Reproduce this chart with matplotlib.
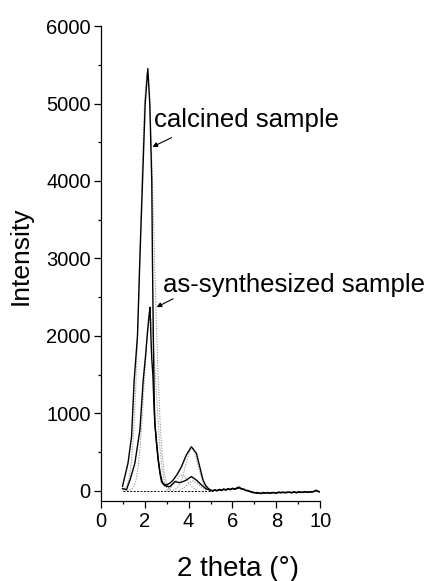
import matplotlib
matplotlib.use("Agg")
import matplotlib.pyplot as plt
from matplotlib.ticker import MultipleLocator

plt.rcParams['font.family'] = ['Liberation Sans', 'DejaVu Sans']

# ---- data ----
tail_x = [5.1, 5.2, 5.3, 5.4, 5.5, 5.6, 5.7, 5.8, 5.9, 6.0, 6.1, 6.2, 6.3, 6.4, 6.5,
          6.6, 6.7, 6.8, 6.9, 7.0, 7.1, 7.2, 7.3, 7.4, 7.5, 7.6, 7.7, 7.8, 7.9, 8.0,
          8.1, 8.2, 8.3, 8.4, 8.5, 8.6, 8.7, 8.8, 8.9, 9.0, 9.1, 9.2, 9.3, 9.4, 9.5,
          9.6, 9.7, 9.8, 9.9, 10.0]

calc_x = [1.0, 1.1, 1.25, 1.41, 1.53, 1.68, 1.79, 1.91, 2.03, 2.15, 2.24, 2.33,
          2.36, 2.40, 2.44, 2.47, 2.55, 2.62, 2.70, 2.77, 2.85, 3.0, 3.15, 3.3,
          3.5, 3.68, 3.9, 4.13, 4.36, 4.51, 4.66, 4.78, 4.89, 5.0] + tail_x
calc_y = [60, 180, 360, 700, 1430, 2000, 3000, 4000, 5000, 5450, 5000, 4000,
          3000, 2000, 1200, 870, 600, 400, 230, 120, 90, 77, 100, 140,
          220, 313, 463, 570, 485, 313, 140, 70, 35, 10] + \
         [-5, 15, 5, 20, 10, 25, 15, 30, 20, 35, 25, 40, 50, 30, 25,
          10, 5, -5, -15, -20, -30, -25, -35, -25, -30, -20, -30, -25, -20, -30,
          -20, -25, -15, -25, -20, -15, -25, -15, -20, -10, -20, -15, -10, -20, -10,
          -15, -5, 10, -10, -10]

as_x = [1.0, 1.18, 1.35, 1.56, 1.79, 1.94, 2.05, 2.12, 2.20, 2.25, 2.29, 2.33,
        2.38, 2.43, 2.47, 2.55, 2.62, 2.70, 2.80, 2.90, 3.0, 3.15, 3.38, 3.6,
        3.75, 3.9, 4.13, 4.36, 4.59, 4.82, 5.0] + tail_x
as_y = [30, 15, 150, 356, 785, 1430, 1750, 2000, 2250, 2370, 2000, 1700,
        1500, 1100, 870, 620, 420, 250, 120, 70, 60, 55, 120, 107,
        120, 140, 185, 140, 77, 22, 10] + \
       [5, 10, 0, 15, 5, 20, 10, 25, 15, 30, 20, 30, 40, 25, 20,
        5, 0, -10, -20, -25, -20, -30, -30, -20, -25, -25, -30, -20, -25, -25,
        -15, -20, -20, -20, -15, -20, -20, -10, -25, -15, -15, -20, -10, -15, -15,
        -10, -10, 5, -5, -15]

fit1_x = [1.0, 1.1, 1.2, 1.3, 1.4, 1.5, 1.6, 1.7, 1.8, 1.9, 2.0, 2.1, 2.2, 2.3,
          2.4, 2.5, 2.6, 2.7, 2.8, 2.9, 3.0, 3.1, 3.2]
fit1_y = [8, 24, 66, 163, 364, 731, 1323, 2157, 3170, 4198, 5010, 5390, 5223,
          4563, 3592, 2548, 1629, 938, 487, 227, 96, 36, 12]

fit2_x = [1.2, 1.3, 1.4, 1.5, 1.6, 1.7, 1.8, 1.9, 2.0, 2.1, 2.2, 2.3, 2.4, 2.5,
          2.6, 2.7, 2.8, 2.9, 3.0, 3.1, 3.2]
fit2_y = [1, 5, 16, 47, 124, 283, 561, 971, 1466, 1929, 2212, 2212, 1929, 1466,
          971, 561, 283, 124, 47, 16, 5]

fit3_x = [3.0, 3.2, 3.4, 3.6, 3.7, 3.8, 4.0, 4.2, 4.4]
fit3_y = [5, 40, 120, 195, 205, 190, 110, 40, 8]

fit4_x = [3.3, 3.5, 3.7, 3.9, 4.1, 4.2, 4.3, 4.5, 4.7, 4.9, 5.1]
fit4_y = [5, 40, 150, 370, 540, 545, 480, 250, 80, 15, 2]

fit5_x = [3.6, 3.8, 4.0, 4.2, 4.4, 4.6, 4.8]
fit5_y = [5, 40, 100, 130, 95, 40, 8]

base_x = [1.0, 5.0]
base_y = [0, 0]

xticks = [0, 2, 4, 6, 8, 10]
yticks = [0, 1000, 2000, 3000, 4000, 5000, 6000]

labels = ["calcined sample", "as-synthesized sample"]
label_pos = [(2.44, 4698), (2.85, 2561)]
arrow_tail = [(3.23, 4560), (3.30, 2480)]
arrow_tip = [(2.36, 4440), (2.55, 2372)]

# ---- figure ----
fig = plt.figure(figsize=(4.39, 5.81), dpi=100)
ax = fig.add_axes([0.229, 0.1377, 0.501, 0.8175])

gray = '#a0a0a0'
for fx, fy in [(fit1_x, fit1_y), (fit2_x, fit2_y), (fit3_x, fit3_y),
               (fit4_x, fit4_y), (fit5_x, fit5_y)]:
    ax.plot(fx, fy, color=gray, lw=0.8, ls=(0, (1.2, 1.2)))
ax.plot(base_x, base_y, color='black', lw=0.7, ls=(0, (2, 1.5)))
ax.plot(calc_x, calc_y, color='black', lw=1.0)
ax.plot(as_x, as_y, color='black', lw=1.0)

for txt, pos, tail, tip in zip(labels, label_pos, arrow_tail, arrow_tip):
    ax.text(pos[0], pos[1], txt, fontsize=18.5, ha='left', va='baseline')
    ax.annotate('', xy=tip, xytext=tail,
                arrowprops=dict(arrowstyle='-|>', lw=0.8, color='black',
                                mutation_scale=7, shrinkA=0, shrinkB=0))

ax.set_xlim(0, 10)
ax.set_ylim(-130, 6000)
ax.set_xticks(xticks)
ax.set_yticks(yticks)
ax.xaxis.set_minor_locator(MultipleLocator(1))
ax.yaxis.set_minor_locator(MultipleLocator(500))
ax.tick_params(which='major', direction='out', length=5, width=0.9,
               labelsize=14.5, pad=2)
ax.tick_params(which='minor', direction='out', length=2.5, width=0.9)
ax.tick_params(axis='x', which='major', pad=3)

for s in ['top', 'right']:
    ax.spines[s].set_visible(False)
for s in ['left', 'bottom']:
    ax.spines[s].set_linewidth(0.9)
ax.spines['left'].set_bounds(-130, 6000)

ax.set_xlabel('2 theta (°)', fontsize=20)
ax.set_ylabel('Intensity', fontsize=19)
ax.xaxis.set_label_coords(0.625, -0.115)
ax.yaxis.set_label_coords(-0.31, 0.517)

fig.savefig('out.png', dpi=100)
